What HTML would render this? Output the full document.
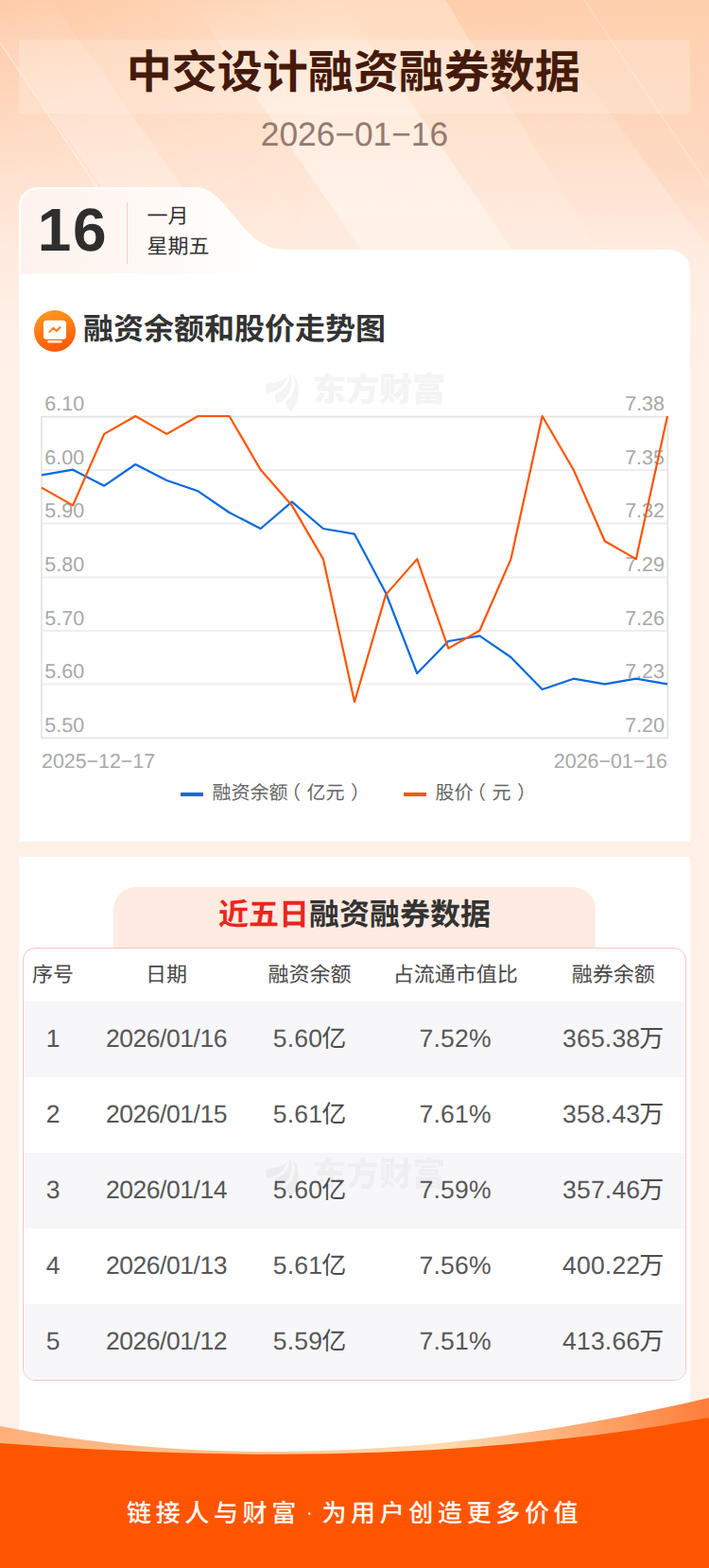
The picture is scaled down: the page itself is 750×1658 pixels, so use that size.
<!DOCTYPE html>
<html lang="zh-CN">
<head>
<meta charset="utf-8">
<title>中交设计融资融券数据</title>
<style>
html,body{margin:0;padding:0}
body{width:750px;height:1658px;overflow:hidden;font-family:"Liberation Sans",sans-serif;background:#ffeee5;text-rendering:geometricPrecision}
.page{position:relative;width:750px;height:1658px;overflow:hidden;
 background:linear-gradient(180deg,#ffdcc0 0px,#ffe5d4 175px,#ffede2 270px,#fff0e7 400px,#fff0e7 100%)}
.abs{position:absolute}
.cj{display:inline-block;position:relative;vertical-align:middle;white-space:nowrap;font-family:"Liberation Sans","Noto Sans CJK SC",sans-serif;font-weight:normal;overflow:visible}
.cj.b{font-weight:bold}
.cj.k{font-weight:900}
.titlebox{left:20px;top:42px;width:710px;height:78px;background:rgba(255,255,255,.2)}
.date{left:0;width:750px;top:122.5px;height:40px;line-height:40px;text-align:center;font-size:35.3px;color:#957a6e}
.day{left:39.8px;top:205.8px;font-size:64px;line-height:74px;font-weight:bold;color:#2e2e2e;letter-spacing:1.5px}
.vline{left:134px;top:214px;width:1px;height:65px;background:#f6cfc6}
.ax{text-rendering:geometricPrecision;font-family:"Liberation Sans",sans-serif;font-size:21.5px;fill:#a8a8a8}
.dx{text-rendering:geometricPrecision;font-family:"Liberation Sans",sans-serif;font-size:21.4px;fill:#a8a8a8}
.card2{left:20px;top:906px;width:710px;height:752px;background:#fff}
.h2tab{left:120px;top:938px;width:510px;height:66px;border-radius:24px 24px 0 0;background:#ffebe1;text-align:center;line-height:56px;white-space:nowrap}
.tbl{position:absolute;width:700px;height:456px;border:1px solid #fac2c2;border-radius:13px;background:#fff;overflow:hidden}
.tr{position:absolute;left:0;width:700px}
.tr.odd{background:#f7f7f9}
.td{position:absolute;top:0;width:200px;height:100%;display:flex;align-items:center;justify-content:center;font-size:26.5px;color:#575757;white-space:nowrap;padding-bottom:2px;box-sizing:border-box}
.th .td{color:#484848;padding-bottom:0}
.td.d{letter-spacing:-0.45px}
.td.n{letter-spacing:0.2px}
.td .u{color:#4c4c4c;letter-spacing:0}
.td .u{margin-left:-1px}
.lg{height:4px;width:24px;top:838px}
</style>
</head>
<body>
<div class="page">
  <svg class="abs" style="left:0;top:0" width="750" height="340" viewBox="0 0 750 340">
    <defs>
      <linearGradient id="bgL" gradientUnits="userSpaceOnUse" x1="0" y1="0" x2="340" y2="0"><stop offset="0" stop-color="#fa965a" stop-opacity=".27"/><stop offset="1" stop-color="#fa965a" stop-opacity="0"/></linearGradient>
      <linearGradient id="vf" gradientUnits="userSpaceOnUse" x1="0" y1="0" x2="0" y2="320"><stop offset="0" stop-color="#fff"/><stop offset=".3" stop-color="#888"/><stop offset=".6" stop-color="#2a2a2a"/><stop offset="1" stop-color="#000"/></linearGradient>
      <mask id="vm"><rect x="0" y="0" width="750" height="340" fill="url(#vf)"/></mask>
      <linearGradient id="bandAB" gradientUnits="userSpaceOnUse" x1="0" y1="0" x2="0" y2="300"><stop offset="0" stop-color="#fa965a" stop-opacity=".20"/><stop offset=".6" stop-color="#fa965a" stop-opacity=".04"/><stop offset="1" stop-color="#fa965a" stop-opacity="0"/></linearGradient>
      <linearGradient id="bandR" gradientUnits="userSpaceOnUse" x1="0" y1="0" x2="0" y2="300"><stop offset="0" stop-color="#fa965a" stop-opacity=".18"/><stop offset=".6" stop-color="#fa965a" stop-opacity=".15"/><stop offset="1" stop-color="#fa965a" stop-opacity="0"/></linearGradient>
      <linearGradient id="bandC" gradientUnits="userSpaceOnUse" x1="0" y1="0" x2="0" y2="310"><stop offset="0" stop-color="#fff" stop-opacity="0"/><stop offset=".4" stop-color="#fff" stop-opacity=".36"/><stop offset=".72" stop-color="#fff" stop-opacity=".4"/><stop offset="1" stop-color="#fff" stop-opacity="0"/></linearGradient>
      <linearGradient id="bandLL" gradientUnits="userSpaceOnUse" x1="0" y1="0" x2="0" y2="300"><stop offset="0" stop-color="#fff" stop-opacity=".05"/><stop offset=".55" stop-color="#fff" stop-opacity=".25"/><stop offset="1" stop-color="#fff" stop-opacity="0"/></linearGradient>
    </defs>
    <rect x="0" y="0" width="380" height="340" fill="url(#bgL)" mask="url(#vm)"/>
    <polygon points="471,0 557,0 777,300 654,300" fill="url(#bandAB)"/>
    <polygon points="557,0 760,0 760,300 777,300" fill="url(#bandR)"/>
    <polygon points="200,0 360,0 574,310 414,310" fill="url(#bandC)"/>
    <polygon points="-32,0 54,0 265,300 179,300" fill="url(#bandLL)"/>
    <line x1="-3" y1="41" x2="103" y2="198" stroke="#fff" stroke-opacity=".4" stroke-width="1.6"/>
    <line x1="618" y1="0" x2="752" y2="200" stroke="#fff" stroke-opacity=".22" stroke-width="1.6"/>
  </svg>
  <div class="abs titlebox"></div>
  <h1 style="margin:0"><span class="cj b" style="width:480.00px;height:48px;font-size:48px;line-height:48px;color:#451a0a;position:absolute;left:133.80px;top:54.30px;">中交设计融资融券数据</span></h1>
  <div class="abs date">2026−01−16</div>

  <svg class="abs" style="left:0;top:190px" width="750" height="710" viewBox="0 190 750 710">
    <defs>
      <linearGradient id="tabg" x1="0" y1="0" x2="1" y2="0"><stop offset="0" stop-color="#fef2ec"/><stop offset="0.55" stop-color="#fffaf7"/><stop offset="0.9" stop-color="#ffffff"/></linearGradient>
      <clipPath id="tabclip"><rect x="0" y="190" width="750" height="99.5"/></clipPath>
    </defs>
    <path id="card1" d="M20,890 L20,218 A20,20 0 0 1 40,198 L206,198 C241,198 254,264 300,264 L708,264 A22,22 0 0 1 730,286 L730,890 Z" fill="#ffffff"/>
    <path d="M20,300 L20,218 A20,20 0 0 1 40,198 L206,198 C241,198 254,264 300,264 L320,264 L320,300 Z" fill="url(#tabg)" clip-path="url(#tabclip)"/>
    <path d="M21,289 L21,218 A19,19 0 0 1 40,199 L206,199 C241,199 254,265 300,265" fill="none" stroke="#ffffff" stroke-width="2"/>
  </svg>
  <div class="abs day">16</div>
  <div class="abs vline"></div>
  <span class="cj" style="width:44.00px;height:22px;font-size:22px;line-height:22px;color:#333;position:absolute;left:155.50px;top:217.50px;">一月</span><span class="cj" style="width:66.00px;height:22px;font-size:22px;line-height:22px;color:#333;position:absolute;left:155.50px;top:249.50px;">星期五</span>

  <svg class="abs" style="left:36px;top:328px" width="44" height="44" viewBox="0 0 44 44">
    <defs><linearGradient id="icg" x1="0.3" y1="0" x2="0.6" y2="1"><stop offset="0" stop-color="#ff9a20"/><stop offset="1" stop-color="#ff5608"/></linearGradient></defs>
    <circle cx="22" cy="22" r="22" fill="url(#icg)"/>
    <rect x="10" y="10.8" width="24" height="20" rx="3.5" fill="#fff"/>
    <rect x="14.4" y="32" width="15.2" height="2.5" rx="1.25" fill="#fff"/>
    <polyline points="16.4,22.8 20.4,18.8 24,22 27.6,18" fill="none" stroke="#ff7a14" stroke-width="1.9" stroke-linecap="round" stroke-linejoin="round"/>
  </svg>
  <h2 style="margin:0"><span class="cj b" style="width:320.00px;height:32px;font-size:32px;line-height:32px;color:#333;position:absolute;left:88.00px;top:332.00px;">融资余额和股价走势图</span></h2>
  <svg class="abs" style="left:272px;top:388px" width="60" height="50" viewBox="0 0 60 50" fill="#f4f4f4"><path d="M32,8.4 C31.5,12 27,14.5 21,16 C17,17 13,17.4 10,18 C8.8,21 8.9,25 10,28 C15,27.2 20,25.2 24,22.4 C28.5,19 31.5,14 32,8.4 Z M34.4,7.6 C34.6,12 33.5,17 30,21.5 C27,25 23,27 19.2,28 C18.2,31.5 19.5,36 21.6,38.8 C25,37.5 29,34.5 32,30.5 C36,25 38,16 35.6,8 Z M37.6,8.4 C39.5,12 40.2,18 39,24 C37.8,29.5 34.5,33.5 30.4,36.4 C30,40 32,44.5 35.2,47.2 C39,44 42.5,37 43.6,30 C44.8,22 43,14.5 40,11.2 C39.2,10 38.5,9 37.6,8.4 Z"/></svg>
  <span class="cj k" style="width:140.00px;height:35px;font-size:35px;line-height:35px;color:#f4f4f4;position:absolute;left:331.00px;top:394.50px;">东方财富</span>
  <svg class="chart" width="750" height="460" viewBox="0 400 750 460" style="position:absolute;left:0;top:400px">
<line x1="44.0" x2="706.0" y1="497.00" y2="497.00" stroke="#eeeeee" stroke-width="2"/>
<line x1="44.0" x2="706.0" y1="553.50" y2="553.50" stroke="#eeeeee" stroke-width="2"/>
<line x1="44.0" x2="706.0" y1="610.50" y2="610.50" stroke="#eeeeee" stroke-width="2"/>
<line x1="44.0" x2="706.0" y1="667.00" y2="667.00" stroke="#eeeeee" stroke-width="2"/>
<line x1="44.0" x2="706.0" y1="723.50" y2="723.50" stroke="#eeeeee" stroke-width="2"/>
<rect x="44.0" y="440.6" width="662.3" height="339.8" fill="none" stroke="#e3e3e3" stroke-width="1.7"/>
<text x="47.3" y="433.7" class="ax">6.10</text>
<text x="47.3" y="490.7" class="ax">6.00</text>
<text x="47.3" y="547.2" class="ax">5.90</text>
<text x="47.3" y="604.2" class="ax">5.80</text>
<text x="47.3" y="660.7" class="ax">5.70</text>
<text x="47.3" y="717.2" class="ax">5.60</text>
<text x="47.3" y="773.7" class="ax">5.50</text>
<text x="703" y="433.7" class="ax" text-anchor="end">7.38</text>
<text x="703" y="490.7" class="ax" text-anchor="end">7.35</text>
<text x="703" y="547.2" class="ax" text-anchor="end">7.32</text>
<text x="703" y="604.2" class="ax" text-anchor="end">7.29</text>
<text x="703" y="660.7" class="ax" text-anchor="end">7.26</text>
<text x="703" y="717.2" class="ax" text-anchor="end">7.23</text>
<text x="703" y="773.7" class="ax" text-anchor="end">7.20</text>
<polyline points="44.0,502.3 77.1,496.7 110.2,513.7 143.3,491.0 176.4,508.0 209.5,519.3 242.6,542.0 275.7,559.0 308.8,530.7 341.9,559.0 375.0,564.7 408.1,627.0 441.2,712.0 474.3,678.0 507.4,672.3 540.5,695.0 573.6,729.0 606.7,717.7 639.8,723.3 672.9,717.7 706.0,723.3" fill="none" stroke="#0a6adc" stroke-width="2.2" stroke-linejoin="round"/>
<polyline points="44.0,515.6 77.1,534.4 110.2,458.9 143.3,440.0 176.4,458.9 209.5,440.0 242.6,440.0 275.7,496.7 308.8,534.4 341.9,591.1 375.0,742.2 408.1,628.9 441.2,591.1 474.3,685.6 507.4,666.7 540.5,591.1 573.6,440.0 606.7,496.7 639.8,572.2 672.9,591.1 706.0,440.0" fill="none" stroke="#ff5500" stroke-width="2.2" stroke-linejoin="round"/>
<text x="44" y="812" class="dx">2025−12−17</text>
<text x="706" y="812" class="dx" text-anchor="end">2026−01−16</text>
</svg>
  <div class="abs lg" style="left:191px;background:#0a6adc"></div><span class="cj" style="width:160.00px;height:20px;font-size:20px;line-height:20px;color:#666;position:absolute;left:224.50px;top:828.50px;">融资余额<span style="position:relative;left:-0.325em">（</span>亿元<span style="position:relative;left:0.325em">）</span></span>
  <div class="abs lg" style="left:427px;background:#ff5500"></div><span class="cj" style="width:100.00px;height:20px;font-size:20px;line-height:20px;color:#666;position:absolute;left:460.50px;top:828.50px;">股价<span style="position:relative;left:-0.325em">（</span>元<span style="position:relative;left:0.325em">）</span></span>

  <div class="abs card2"></div>
  <h2 class="abs h2tab" style="margin:0"><span class="cj b" style="width:96.00px;height:32px;font-size:32px;line-height:32px;color:#e9261e;">近五日</span><span class="cj b" style="width:192.00px;height:32px;font-size:32px;line-height:32px;color:#333;">融资融券数据</span></h2>
  <div class="tbl" style="left:24px;top:1002px">
<div class="tr th" style="top:0;height:56px">
<div class="td" style="left:-69.0px"><span class="cj" style="width:44.00px;height:22px;font-size:22px;line-height:22px;">序号</span></div>
<div class="td" style="left:51.0px"><span class="cj" style="width:44.00px;height:22px;font-size:22px;line-height:22px;">日期</span></div>
<div class="td" style="left:202.5px"><span class="cj" style="width:88.00px;height:22px;font-size:22px;line-height:22px;">融资余额</span></div>
<div class="td" style="left:356.7px"><span class="cj" style="width:132.00px;height:22px;font-size:22px;line-height:22px;">占流通市值比</span></div>
<div class="td" style="left:523.7px"><span class="cj" style="width:88.00px;height:22px;font-size:22px;line-height:22px;">融券余额</span></div>
</div>
<div class="tr odd" style="top:56px;height:80px">
<div class="td " style="left:-69.0px">1</div>
<div class="td d" style="left:51.0px">2026/01/16</div>
<div class="td n" style="left:202.5px">5.60<span class="cj u" style="width:26.00px;height:26px;font-size:26px;line-height:26px;">亿</span></div>
<div class="td n" style="left:356.7px">7.52%</div>
<div class="td n" style="left:523.7px">365.38<span class="cj u" style="width:26.00px;height:26px;font-size:26px;line-height:26px;">万</span></div>
</div>
<div class="tr" style="top:136px;height:80px">
<div class="td " style="left:-69.0px">2</div>
<div class="td d" style="left:51.0px">2026/01/15</div>
<div class="td n" style="left:202.5px">5.61<span class="cj u" style="width:26.00px;height:26px;font-size:26px;line-height:26px;">亿</span></div>
<div class="td n" style="left:356.7px">7.61%</div>
<div class="td n" style="left:523.7px">358.43<span class="cj u" style="width:26.00px;height:26px;font-size:26px;line-height:26px;">万</span></div>
</div>
<div class="tr odd" style="top:216px;height:80px">
<div class="td " style="left:-69.0px">3</div>
<div class="td d" style="left:51.0px">2026/01/14</div>
<div class="td n" style="left:202.5px">5.60<span class="cj u" style="width:26.00px;height:26px;font-size:26px;line-height:26px;">亿</span></div>
<div class="td n" style="left:356.7px">7.59%</div>
<div class="td n" style="left:523.7px">357.46<span class="cj u" style="width:26.00px;height:26px;font-size:26px;line-height:26px;">万</span></div>
</div>
<div class="tr" style="top:296px;height:80px">
<div class="td " style="left:-69.0px">4</div>
<div class="td d" style="left:51.0px">2026/01/13</div>
<div class="td n" style="left:202.5px">5.61<span class="cj u" style="width:26.00px;height:26px;font-size:26px;line-height:26px;">亿</span></div>
<div class="td n" style="left:356.7px">7.56%</div>
<div class="td n" style="left:523.7px">400.22<span class="cj u" style="width:26.00px;height:26px;font-size:26px;line-height:26px;">万</span></div>
</div>
<div class="tr odd" style="top:376px;height:80px">
<div class="td " style="left:-69.0px">5</div>
<div class="td d" style="left:51.0px">2026/01/12</div>
<div class="td n" style="left:202.5px">5.59<span class="cj u" style="width:26.00px;height:26px;font-size:26px;line-height:26px;">亿</span></div>
<div class="td n" style="left:356.7px">7.51%</div>
<div class="td n" style="left:523.7px">413.66<span class="cj u" style="width:26.00px;height:26px;font-size:26px;line-height:26px;">万</span></div>
</div>
</div>
  <svg class="abs" style="left:272px;top:1218px" width="60" height="50" viewBox="0 0 60 50" fill="rgba(0,0,0,0.042)"><path d="M32,8.4 C31.5,12 27,14.5 21,16 C17,17 13,17.4 10,18 C8.8,21 8.9,25 10,28 C15,27.2 20,25.2 24,22.4 C28.5,19 31.5,14 32,8.4 Z M34.4,7.6 C34.6,12 33.5,17 30,21.5 C27,25 23,27 19.2,28 C18.2,31.5 19.5,36 21.6,38.8 C25,37.5 29,34.5 32,30.5 C36,25 38,16 35.6,8 Z M37.6,8.4 C39.5,12 40.2,18 39,24 C37.8,29.5 34.5,33.5 30.4,36.4 C30,40 32,44.5 35.2,47.2 C39,44 42.5,37 43.6,30 C44.8,22 43,14.5 40,11.2 C39.2,10 38.5,9 37.6,8.4 Z"/></svg>
  <span class="cj k" style="width:140.00px;height:35px;font-size:35px;line-height:35px;color:rgba(0,0,0,0.042);position:absolute;left:331.00px;top:1224.50px;">东方财富</span>

  <svg class="abs" style="left:0;top:1470px" width="750" height="188" viewBox="0 1470 750 188">
    <defs><linearGradient id="fg" x1="0" y1="0" x2="1" y2="0"><stop offset="0" stop-color="#ffb078"/><stop offset="0.35" stop-color="#ffc48f"/><stop offset="0.62" stop-color="#ffdcb0"/><stop offset="1" stop-color="#ff7d3a"/></linearGradient></defs>
    <path d="M0,1508 C200,1548 450,1548 750,1478 L750,1658 L0,1658 Z" fill="url(#fg)"/>
    <path d="M0,1526 C250,1545 500,1544 750,1499 L750,1658 L0,1658 Z" fill="#ff5500"/>
  </svg>
  <p style="margin:0"><span class="cj" style="width:179.30px;height:26px;font-size:26px;line-height:26px;letter-spacing:4.65px;font-weight:500;color:#fff;position:absolute;left:134.00px;top:1586.50px;">链接人与财富</span><span class="cj" style="width:20.00px;height:20px;font-size:20px;line-height:20px;text-align:center;color:#fff;position:absolute;left:317.30px;top:1589.50px;">·</span><span class="cj" style="width:271.28px;height:26px;font-size:26px;line-height:26px;letter-spacing:4.65px;font-weight:500;color:#fff;position:absolute;left:340.40px;top:1586.50px;">为用户创造更多价值</span></p>
</div>
</body>
</html>
